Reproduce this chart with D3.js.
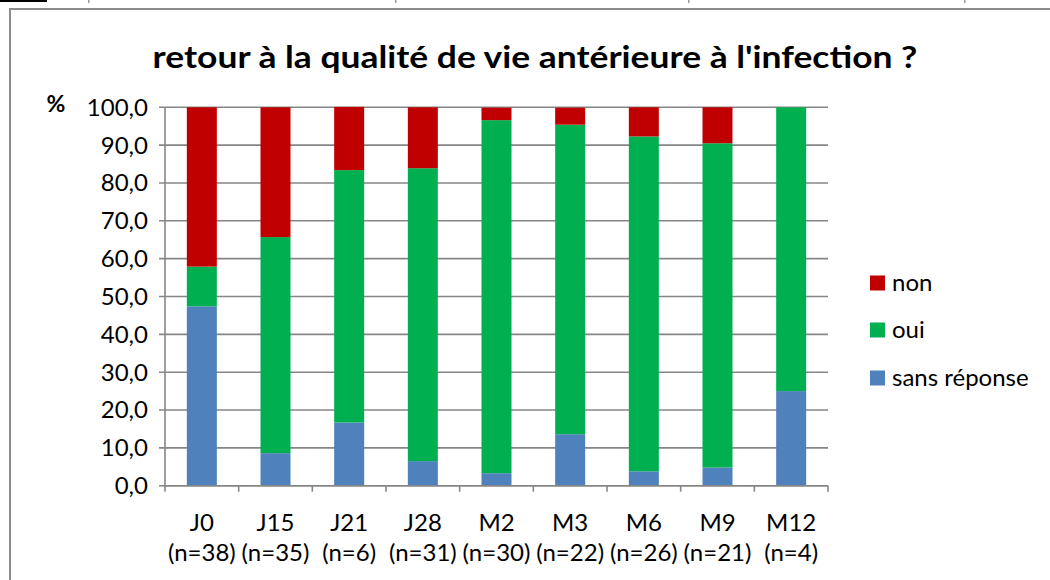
<!DOCTYPE html>
<html><head><meta charset="utf-8">
<script src="https://cdn.jsdelivr.net/npm/d3@7"></script>
<style>
html,body{margin:0;padding:0;background:#fff;}
svg{display:block;}
text{font-family:Lato,"Open Sans",sans-serif;fill:#000;}
</style></head>
<body><svg id="c" width="1050" height="580"></svg>
<script>
const categories = ["J0","J15","J21","J28","M2","M3","M6","M9","M12"];
const nLabels = ["(n=38)","(n=35)","(n=6)","(n=31)","(n=30)","(n=22)","(n=26)","(n=21)","(n=4)"];
const sansReponse = [47.4, 8.6, 16.7, 6.5, 3.3, 13.6, 3.8, 4.8, 25.0];
const oui = [10.5, 57.1, 66.7, 77.4, 93.3, 81.8, 88.5, 85.7, 75.0];
const non = [42.1, 34.3, 16.7, 16.1, 3.3, 4.5, 7.7, 9.5, 0.0];
const seriesNames = ["sans réponse","oui","non"];
const seriesColors = ["#4F81BD","#00B050","#C00000"];
const yTicks = [0,10,20,30,40,50,60,70,80,90,100];
const title = "retour à la qualité de vie antérieure à l'infection ?";

const svg = d3.select("#c");
const L = 165, R = 828, T = 107.3, B = 485.7;

// spreadsheet remnants at top
svg.append("rect").attr("x",0).attr("y",0).attr("width",47).attr("height",2).attr("fill","#000");
[88,395,688,964].forEach(x=>svg.append("rect").attr("x",x).attr("y",0).attr("width",1.5).attr("height",3).attr("fill","#999"));
// chart border
svg.append("rect").attr("x",10).attr("y",9).attr("width",1100).attr("height",700)
  .attr("fill","none").attr("stroke","#8c8c8c").attr("stroke-width",2);

const xb = d3.scaleBand().domain(categories).range([L,R]);
const y = d3.scaleLinear().domain([0,100]).range([B,T]);

// gridlines
svg.append("g").selectAll("line").data(yTicks).join("line")
  .attr("x1",L-6).attr("x2",R).attr("y1",d=>y(d)).attr("y2",d=>y(d))
  .attr("stroke","#868686").attr("stroke-width",1.6);
svg.append("line").attr("x1",L).attr("x2",L).attr("y1",T).attr("y2",B+1)
  .attr("stroke","#868686").attr("stroke-width",1.6);
svg.append("g").selectAll("line").data(d3.range(categories.length+1)).join("line")
  .attr("x1",i=>L+i*xb.step()).attr("x2",i=>L+i*xb.step()).attr("y1",B).attr("y2",B+6)
  .attr("stroke","#868686").attr("stroke-width",1.6);

// stacked bars
const rows = categories.map((c,i)=>({cat:c,"sans réponse":sansReponse[i],"oui":oui[i],"non":non[i]}));
const stack = d3.stack().keys(seriesNames)(rows);
svg.append("g").selectAll("g").data(stack).join("g")
  .attr("fill",(d,i)=>seriesColors[i])
  .selectAll("rect").data(d=>d).join("rect")
  .attr("x",d=>xb(d.data.cat)+xb.bandwidth()/2-15)
  .attr("width",30)
  .attr("y",d=>y(d[1])).attr("height",d=>Math.max(0,y(d[0])-y(d[1])));

svg.append("line").attr("x1",L).attr("x2",R).attr("y1",B).attr("y2",B)
  .attr("stroke","#868686").attr("stroke-width",1.6);

// y tick labels
svg.append("g").selectAll("text").data(yTicks).join("text")
  .attr("x",148).attr("y",d=>y(d)).attr("dy","0.35em").attr("text-anchor","end")
  .style("font-size","24px").text(d=>d.toFixed(1).replace(".",","));
svg.append("text").attr("x",56).attr("y",104).attr("dy","0.35em").attr("text-anchor","middle")
  .style("font-size","23px").style("font-weight","bold").text("%");

// x labels
const xl = svg.append("g").selectAll("g").data(categories).join("g");
xl.append("text").attr("x",d=>xb(d)+xb.bandwidth()/2).attr("y",531).attr("text-anchor","middle")
  .style("font-size","24px").text(d=>d);
xl.append("text").attr("x",d=>xb(d)+xb.bandwidth()/2).attr("y",561).attr("text-anchor","middle")
  .style("font-size","24px").text((d,i)=>nLabels[i]);

// title
const tt = svg.append("text").attr("text-anchor","middle")
  .style("font-size","30px").style("font-weight","bold").text(title);
const tw = tt.node().getComputedTextLength();
tt.attr("transform",`translate(535,68) scale(${765/tw},1)`);

// legend
const leg = [2,1,0];
const lg = svg.append("g").selectAll("g").data(leg).join("g")
  .attr("transform",(d,i)=>`translate(870,${[283,330,378][i]})`);
lg.append("rect").attr("x",0).attr("y",-7.5).attr("width",15).attr("height",15).attr("fill",d=>seriesColors[d]);
lg.append("text").attr("x",22).attr("y",0).attr("dy","0.35em").style("font-size","24px").text(d=>seriesNames[d]);
</script></body></html>
